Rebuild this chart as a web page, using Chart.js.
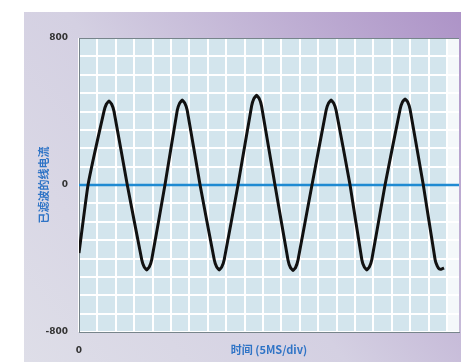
<!DOCTYPE html>
<html>
<head>
<meta charset="utf-8">
<script src="https://cdn.jsdelivr.net/npm/chart.js@4/dist/chart.umd.min.js"></script>
<style>
body { margin: 0; background: #fff; }
</style>
</head>
<body>
<canvas id="chart" width="461" height="362"></canvas>
<script>
// time in divisions (5 ms/div)
var timeDiv = [0, 0.49,
  1.36, 1.49, 1.63, 1.77, 1.90, 2.625,
  3.41, 3.54, 3.68, 3.82, 3.95, 4.67,
  5.34, 5.47, 5.61, 5.75, 5.88, 6.58,
  7.35, 7.48, 7.62, 7.76, 7.89, 8.64,
  9.38, 9.51, 9.65, 9.79, 9.92, 10.65,
  11.36, 11.49, 11.63, 11.77, 11.90, 12.66,
  13.43, 13.56, 13.70, 13.84, 13.97, 14.73,
  15.37, 15.50, 15.64, 15.78, 15.91, 16.63,
  17.45, 17.58, 17.72, 17.86, 17.99, 18.71,
  19.35, 19.47, 19.58, 19.72, 19.84];
// filtered line current
var current = [-370, 0,
  402, 441, 457, 441, 402, 0,
  -407, -446, -462, -446, -407, 0,
  407, 446, 462, 446, 407, 0,
  -407, -446, -462, -446, -407, 0,
  430, 471, 488, 471, 430, 0,
  -409, -449, -465, -449, -409, 0,
  407, 446, 462, 446, 407, 0,
  -407, -446, -462, -446, -407, 0,
  412, 452, 468, 452, 412, 0,
  -405, -442, -457, -457, -452];
var yLabels = [800, 0, -800];
var xLabels = [0];

var wave = [];
for (var i = 0; i < timeDiv.length; i++) {
  wave.push({x: timeDiv[i], y: current[i]});
}

var blue = '#2f74c6';

var panelBg = {
  id: 'panelBg',
  beforeDraw: function(chart) {
    var c = chart.ctx;
    var a = chart.chartArea;
    c.save();
    c.fillStyle = '#fff';
    c.fillRect(0, 0, chart.width, chart.height);
    var g = c.createLinearGradient(24, 362, 461, 12);
    g.addColorStop(0, '#dedee8');
    g.addColorStop(0.45, '#d4d0e2');
    g.addColorStop(1, '#ad93c7');
    c.fillStyle = g;
    c.fillRect(24, 12, chart.width - 24, chart.height - 12);
    var x20 = chart.scales.x.getPixelForValue(20);
    c.fillStyle = '#d3e5ed';
    c.fillRect(a.left, a.top, x20 - a.left, a.bottom - a.top);
    c.fillStyle = '#f4f8fa';
    c.fillRect(x20, a.top, a.right - x20, a.bottom - a.top);
    c.restore();
  }
};

var ctx = document.getElementById('chart').getContext('2d');
var myChart = new Chart(ctx, {
  type: 'line',
  data: {
    datasets: [{
      data: wave,
      borderColor: '#111',
      borderWidth: 3,
      pointRadius: 0,
      tension: 0.1,
      order: 0
    }, {
      data: [{x: 0, y: 0}, {x: 20.65, y: 0}],
      borderColor: '#1f8ad2',
      borderWidth: 2.5,
      pointRadius: 0,
      order: 1
    }]
  },
  options: {
    responsive: false,
    animation: false,
    layout: { padding: { left: 24, top: 38, right: 2, bottom: 0 } },
    plugins: { legend: { display: false }, tooltip: { enabled: false } },
    scales: {
      x: {
        type: 'linear',
        min: 0,
        max: 20.65,
        afterFit: function(s) { s.height = 30; },
        ticks: {
          stepSize: 1,
          includeBounds: false,
          padding: 13,
          maxRotation: 0,
          autoSkip: false,
          color: '#333',
          font: { family: 'DejaVu Sans', size: 9, weight: 'bold' },
          callback: function(v) { return xLabels.indexOf(v) >= 0 ? String(v) : ''; }
        },
        grid: { color: '#fff', lineWidth: 2, drawTicks: false },
        border: { display: true, color: '#77858b', width: 1 },
        title: {
          display: true,
          text: '时间 (5MS/div)',
          color: blue,
          font: { family: 'Noto Sans CJK SC', size: 11, weight: 'bold' },
          padding: { top: 0, bottom: 6 }
        }
      },
      y: {
        min: -800,
        max: 800,
        afterFit: function(s) { s.width = 55; },
        ticks: {
          stepSize: 100,
          padding: 11,
          autoSkip: false,
          color: '#333',
          font: { family: 'DejaVu Sans', size: 9, weight: 'bold' },
          callback: function(v) { return yLabels.indexOf(v) >= 0 ? String(v) : ''; }
        },
        grid: {
          color: function(c) { return c.tick && c.tick.value === 800 ? '#77858b' : '#fff'; },
          lineWidth: function(c) { return c.tick && c.tick.value === 800 ? 1 : 2; },
          drawTicks: false
        },
        border: { display: true, color: '#77858b', width: 1 },
        title: {
          display: true,
          text: '已滤波的线电流',
          color: blue,
          font: { family: 'Noto Sans CJK SC', size: 11, weight: 'bold' },
          padding: { top: 13, bottom: 0 }
        }
      }
    }
  },
  plugins: [panelBg]
});
</script>
</body>
</html>
